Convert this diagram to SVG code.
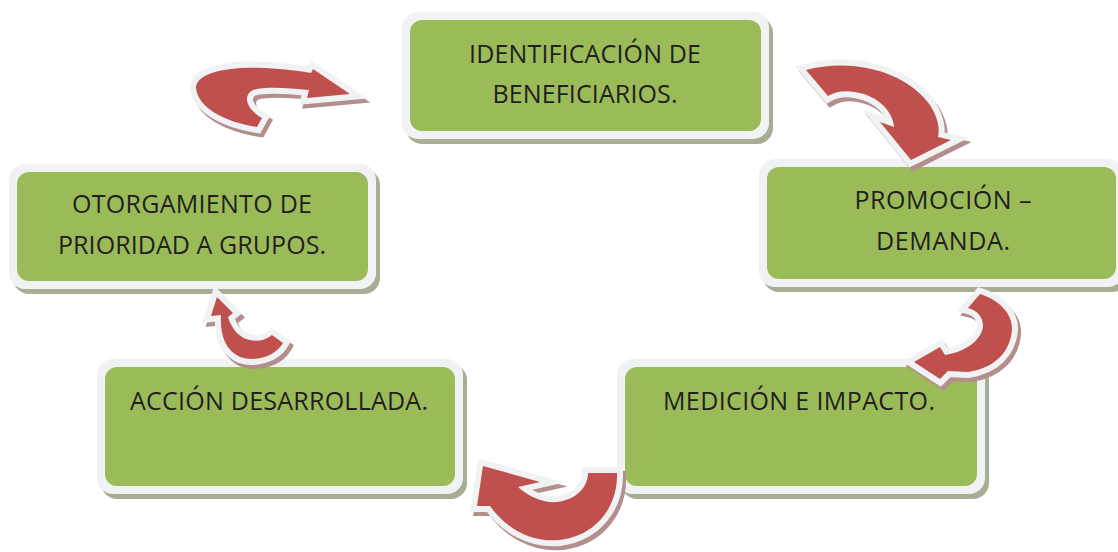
<svg xmlns="http://www.w3.org/2000/svg" xmlns:xlink="http://www.w3.org/1999/xlink" width="1118" height="552" viewBox="0 0 1118 552">
<style>
.shadow{fill:#a7ae93}
.frame{fill:#f1f2f4}
.box{fill:#9bbb59}
.lbl{font-family:"Open Sans","Liberation Sans",sans-serif;font-size:25px;fill:#231f20;text-anchor:middle}
.ash{fill:#b38e8c;stroke:#b38e8c;stroke-width:12;stroke-linejoin:miter;stroke-miterlimit:10}
.aw{fill:#f1f2f4;stroke:#f1f2f4;stroke-width:12;stroke-linejoin:miter;stroke-miterlimit:10}
.ar{fill:#c0504d}
</style>
<defs>
<path id="pA" d="M257,127 C225,122 198,108 196,88 C196,72 230,66 265,68 C285,69 300,71 311,73 L313,69 L350,94 L307,98 L309,90 C290,88 265,86 253,90 C243,95 245,108 262,118 Z"/>
<path id="pB" d="M806,70 C850,58 905,70 930,105 C938,118 940,128 938,137 L951,140 L911,160 L880,122 L894,127 C893,113 880,96 855,92 C843,90 835,92 828,96 Z"/>
<path id="pC" d="M980,294 C1000,300 1013,315 1012,330 C1010,352 995,368 968,372 L948,371 L940,379 L914,362 L940,347 L945,355 C965,352 982,340 983,326 C983,316 976,310 968,308 Z"/>
<path id="pD" d="M617,473 C618,505 598,535 560,540 C530,543 505,527 490,506 L477,506 L483,466 L540,482 L518,487 C530,498 545,503 557,502 C575,500 588,488 588,473 Z"/>
<path id="pE" d="M283,343 C275,357 255,362 240,357 C225,350 220,335 221,315 L211,316 L217,297 L233,313 L228,317 C232,330 240,338 250,340 C258,342 266,340 272,335 Z"/>
</defs>
<rect width="1118" height="552" fill="#ffffff"/>
<g id="n1">
<rect class="shadow" x="406" y="17" width="367" height="127" rx="16"/>
<rect class="frame" x="402" y="12" width="367" height="127" rx="16"/>
<rect class="box" x="410" y="20" width="351" height="111" rx="12"/>
<text class="lbl" x="585" y="63" textLength="232">IDENTIFICACIÓN DE</text>
<text class="lbl" x="585" y="103" textLength="185">BENEFICIARIOS.</text>
</g>
<g id="n2">
<rect class="shadow" x="763" y="164" width="365" height="128" rx="16"/>
<rect class="frame" x="759" y="159" width="365" height="128" rx="16"/>
<rect class="box" x="767" y="167" width="349" height="112" rx="12"/>
<text class="lbl" x="943" y="209" textLength="177">PROMOCIÓN –</text>
<text class="lbl" x="943" y="250" textLength="134">DEMANDA.</text>
</g>
<g id="n3">
<rect class="shadow" x="621" y="364" width="368" height="135" rx="16"/>
<rect class="frame" x="617" y="359" width="368" height="135" rx="16"/>
<rect class="box" x="625" y="367" width="352" height="119" rx="12"/>
<text class="lbl" x="799" y="410" textLength="272">MEDICIÓN E IMPACTO.</text>
</g>
<g id="n4">
<rect class="shadow" x="101" y="364" width="366" height="135" rx="16"/>
<rect class="frame" x="97" y="359" width="366" height="135" rx="16"/>
<rect class="box" x="105" y="367" width="350" height="119" rx="12"/>
<text class="lbl" x="279" y="410" textLength="298">ACCIÓN DESARROLLADA.</text>
</g>
<g id="n5">
<rect class="shadow" x="13" y="169" width="367" height="125" rx="16"/>
<rect class="frame" x="9" y="164" width="367" height="125" rx="16"/>
<rect class="box" x="17" y="172" width="351" height="109" rx="12"/>
<text class="lbl" x="192" y="213" textLength="240">OTORGAMIENTO DE</text>
<text class="lbl" x="192" y="254" textLength="268">PRIORIDAD A GRUPOS.</text>
</g>
<g id="connectors">
<use href="#pA" class="ash" transform="translate(3,4)"/>
<use href="#pA" class="aw"/>
<use href="#pA" class="ar"/>
<use href="#pB" class="ash" transform="translate(3,4)"/>
<use href="#pB" class="aw"/>
<use href="#pB" class="ar"/>
<use href="#pC" class="ash" transform="translate(3,4)"/>
<use href="#pC" class="aw"/>
<use href="#pC" class="ar"/>
<use href="#pD" class="ash" transform="translate(3,4)"/>
<use href="#pD" class="aw"/>
<use href="#pD" class="ar"/>
<use href="#pE" class="ash" transform="translate(3,4)"/>
<use href="#pE" class="aw"/>
<use href="#pE" class="ar"/>
</g>
</svg>
